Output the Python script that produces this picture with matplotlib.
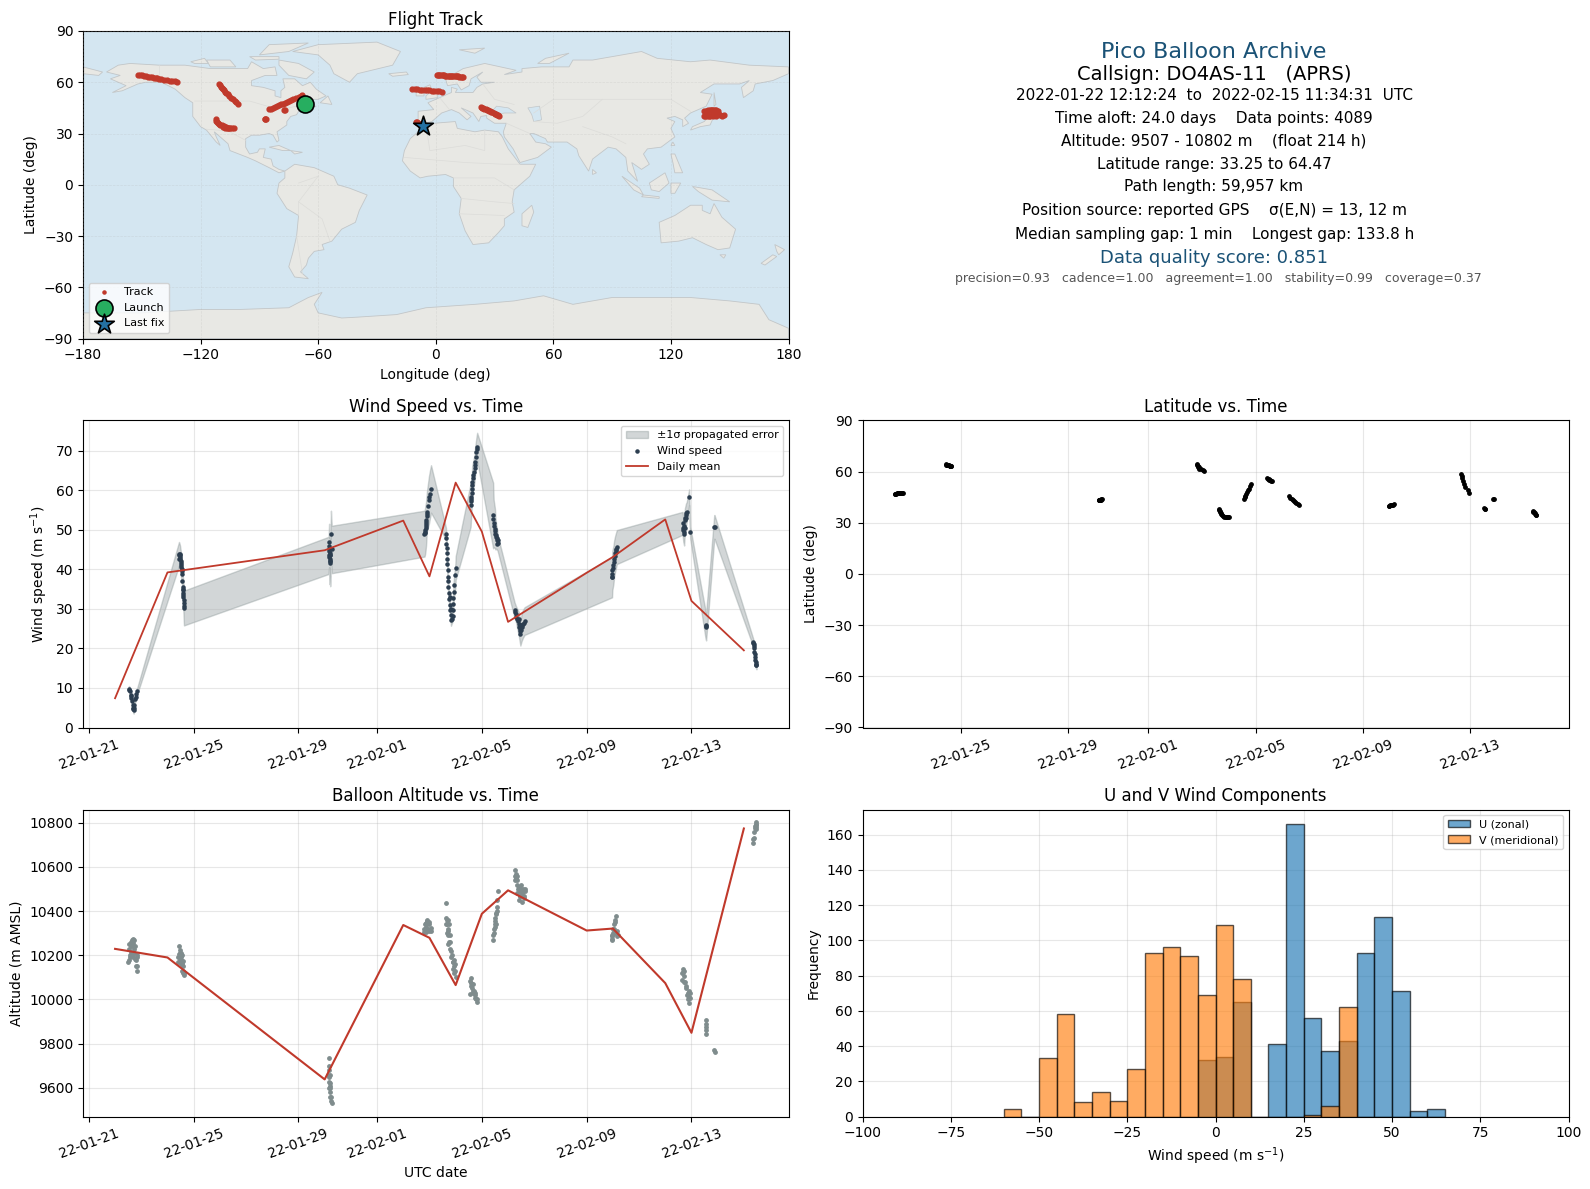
import matplotlib
matplotlib.use('Agg')
import numpy as np
import matplotlib.pyplot as plt
import matplotlib.dates as mdates
from matplotlib.patches import Polygon
from datetime import datetime

# days after 2022-01-21 00:00, one line per burst of fixes
days = [1.53, 1.56, 1.59, 1.62, 1.65, 1.67, 1.69, 1.71, 1.74, 1.77, 1.80, 1.84,
        3.44, 3.46, 3.48, 3.50, 3.52, 3.54, 3.56, 3.58, 3.60, 3.61, 3.62, 3.63,
        9.15, 9.16, 9.17, 9.18, 9.19, 9.20, 9.21, 9.22, 9.24, 9.27,
        12.81, 12.83, 12.85, 12.87, 12.88, 12.89, 12.90, 12.98, 13.02, 13.06,
        13.63, 13.65, 13.67, 13.68, 13.70, 13.71, 13.75, 13.80, 13.82, 13.88, 13.90, 13.92, 13.99, 14.00,
        14.57, 14.60, 14.62, 14.63, 14.67, 14.72, 14.74, 14.79, 14.82,
        15.43, 15.45, 15.50, 15.52, 15.55, 15.59, 15.60,
        16.25, 16.30, 16.35, 16.41, 16.44, 16.47, 16.52, 16.57, 16.63,
        19.97, 19.98, 20.02, 20.05, 20.09, 20.12, 20.15,
        22.66, 22.69, 22.72, 22.75, 22.79, 22.82, 22.91, 22.95,
        23.54, 23.55, 23.56,
        23.87, 23.88,
        25.35, 25.37, 25.39, 25.42, 25.44, 25.46, 25.48]
wind = [9.7, 9.2, 8.3, 7.5, 6.6, 5.6, 4.6, 4.3, 5.7, 7.1, 8.4, 9.1,
        43.9, 43.5, 43.0, 42.0, 41.0, 40.0, 38.8, 35.5, 34.0, 33.0, 31.5, 30.2,
        43.5, 45.0, 46.0, 43.0, 42.0, 44.0, 41.5, 42.5, 48.8, 45.0,
        49.0, 49.5, 50.5, 51.5, 52.5, 53.5, 54.5, 57.5, 59.0, 60.3,
        49.0, 46.5, 44.0, 41.4, 38.0, 35.5, 32.5, 29.6, 27.2, 28.3, 31.3, 34.2, 38.5, 40.3,
        56.2, 58.3, 60.4, 62.1, 63.8, 65.5, 67.2, 69.7, 71.0,
        53.6, 51.6, 50.3, 49.0, 48.2, 47.3, 46.7,
        29.6, 28.7, 27.5, 26.2, 24.9, 23.7, 25.4, 26.2, 26.9,
        38.0, 39.7, 41.0, 42.7, 44.0, 44.8, 45.6,
        51.6, 49.9, 49.5, 52.4, 53.7, 54.5, 58.2, 49.3,
        25.9, 25.7, 25.5,
        50.7, 50.7,
        21.6, 21.0, 20.0, 18.5, 17.0, 16.0, 15.7]
wind_sigma = [.8, .8, .8, .8, .8, .8, .8, .8, .8, .8, .8, .8,
              3, 3, 3, 3, 3, 3, 3, 3, 3.5, 4, 4.2, 4.4,
              4.7, 5, 5.5, 5.5, 5.8, 5.5, 5.8, 5.5, 6, 6,
              5.8, 5.8, 5.8, 5.5, 5.5, 5, 5, 6, 6, 6,
              1.5, 1.5, 1.5, 1.5, 1.5, 1.5, 1.5, 1.5, 1.5, 1.5, 2, 2.5, 3, 3,
              5.5, 4, 4, 4, 3.5, 3.5, 3.5, 3.5, 3.5,
              8.3, 6, 5, 4, 3, 2.5, 2,
              2, 2, 2.5, 3, 3, 3, 3.5, 3.5, 3.5,
              5.1, 5, 4.8, 4.6, 4.5, 4.4, 4.3,
              2.9, 3, 3.5, 3, 2.9, 2.5, 2, 1.5,
              3.5, 3.5, 3.5,
              3, 3,
              1, 1, 1, 1, 1, 1, 1]
altitude = [10180, 10200, 10215, 10240, 10270, 10275, 10255, 10230, 10210, 10185, 10150, 10130,
            10240, 10225, 10210, 10190, 10180, 10170, 10160, 10175, 10150, 10130, 10120, 10110,
            9735, 9700, 9680, 9650, 9620, 9600, 9580, 9560, 9540, 9530,
            10305, 10310, 10320, 10330, 10345, 10355, 10360, 10340, 10320, 10310,
            10370, 10437, 10360, 10340, 10320, 10290, 10260, 10230, 10190, 10170, 10140, 10120, 10130, 10100,
            10095, 10075, 10070, 10050, 10040, 10020, 10030, 10000, 9990,
            10270, 10300, 10330, 10355, 10385, 10420, 10490,
            10585, 10570, 10540, 10510, 10490, 10470, 10440, 10490, 10500,
            10275, 10285, 10300, 10320, 10350, 10380, 10310,
            10140, 10125, 10105, 10080, 10050, 10020, 9985, 10005,
            9905, 9875, 9845,
            9770, 9762,
            10710, 10730, 10760, 10775, 10785, 10795, 10802]
latitude = [47.1, 47.1, 47.1, 47.2, 47.2, 47.3, 47.3, 47.4, 47.4, 47.5, 47.5, 47.6,
            64.3, 64.2, 64.1, 64.0, 63.9, 63.8, 63.7, 63.6, 63.5, 63.4, 63.2, 63.1,
            43.2, 43.3, 43.4, 43.5, 43.5, 43.5, 43.6, 43.6, 43.7, 43.8,
            64.3, 64.0, 63.5, 63.0, 62.6, 62.2, 61.8, 61.3, 60.8, 60.4,
            38.4, 37.6, 37.0, 36.4, 35.8, 35.2, 34.7, 34.2, 33.7, 33.4, 33.3, 33.25, 33.4, 33.4,
            44.1, 45.0, 46.0, 47.0, 48.0, 49.0, 50.0, 51.5, 52.5,
            56.0, 55.8, 55.6, 55.3, 55.0, 54.8, 54.5,
            45.5, 44.8, 44.1, 43.5, 42.9, 42.3, 41.6, 41.0, 40.4,
            40.0, 40.1, 40.2, 40.4, 40.5, 40.7, 40.8,
            58.8, 57.5, 56.0, 54.5, 53.0, 51.0, 49.0, 47.5,
            38.5, 38.4, 38.3,
            43.9, 43.8,
            36.9, 36.5, 36.1, 35.6, 35.2, 34.8, 34.4]
longitude = [-68.0, -67.7, -67.4, -67.0, -66.7, -66.4, -66.1, -65.8, -65.5, -65.0, -64.5, -64.0,
             0.5, 1.7, 3.0, 4.2, 5.4, 6.6, 7.8, 9.0, 10.2, 11.4, 12.7, 14.0,
             137.0, 137.7, 138.4, 139.0, 139.7, 140.3, 141.0, 141.7, 142.4, 143.0,
             -152.0, -150.0, -148.0, -146.0, -144.0, -142.0, -140.0, -137.0, -134.5, -132.0,
             -112.3, -112.0, -111.5, -111.0, -110.5, -110.0, -109.0, -108.0, -107.0, -106.0, -105.5, -105.0, -104.0, -103.0,
             -85.0, -83.0, -81.0, -79.0, -77.0, -75.0, -73.0, -70.0, -68.0,
             -12.0, -9.5, -7.0, -4.5, -2.0, 0.5, 3.0,
             23.0, 24.2, 25.4, 26.6, 27.7, 28.9, 30.1, 31.3, 32.5,
             137.0, 138.5, 140.0, 141.5, 143.0, 145.0, 147.0,
             -110.6, -109.5, -108.5, -107.5, -106.0, -104.5, -102.5, -101.0,
             -87.3, -87.0, -86.8,
             -77.2, -77.0,
             -10.0, -9.5, -9.0, -8.4, -7.8, -7.2, -6.6]

# more fixes read off the clusters, only drawn as points (not part of the error band)
more_wind_days = [1.55, 1.60, 1.68, 1.72, 1.78,
                  3.44, 3.45, 3.47, 3.49, 3.51, 3.53, 3.55, 3.57, 3.585, 3.59, 3.605, 3.615, 3.625,
                  9.16, 9.18, 9.19, 9.20, 9.21, 9.22,
                  12.82, 12.84, 12.86, 12.875, 12.895, 12.94, 13.00,
                  13.64, 13.66, 13.675, 13.69, 13.705, 13.73, 13.775, 13.80, 13.81, 13.83, 13.85, 13.885, 13.91, 13.95,
                  14.58, 14.60, 14.61, 14.625, 14.65, 14.695, 14.73, 14.765, 14.805,
                  15.44, 15.47, 15.51, 15.535, 15.57, 15.58, 15.60,
                  16.27, 16.32, 16.38, 16.40, 16.42, 16.455, 16.49, 16.50, 16.545, 16.60,
                  19.975, 19.98, 20.00, 20.035, 20.07, 20.105, 20.135,
                  22.67, 22.70, 22.70, 22.735, 22.77, 22.80, 22.81,
                  25.36, 25.38, 25.40, 25.43, 25.45, 25.47]
more_wind = [9.5, 7.9, 5.0, 5.0, 7.8,
             42.5, 43.7, 43.8, 42.5, 41.5, 40.5, 39.5, 37.0, 35.0, 34.7, 33.5, 32.2, 30.8,
             47.0, 44.5, 43.5, 42.0, 45.0, 43.5,
             49.2, 50.0, 51.0, 52.0, 54.0, 56.0, 58.2,
             47.8, 45.3, 42.7, 39.7, 37.0, 34.0, 31.0, 33.0, 28.4, 30.0, 27.5, 29.8, 32.8, 36.0,
             57.3, 57.8, 59.4, 61.2, 63.0, 64.7, 66.3, 68.5, 70.4,
             52.6, 51.0, 49.7, 48.6, 47.8, 46.5, 47.5,
             29.2, 28.0, 26.9, 27.4, 25.5, 24.3, 24.6, 26.0, 25.8, 26.5,
             38.9, 38.0, 40.3, 41.8, 43.3, 44.4, 45.2,
             50.5, 51.0, 49.0, 50.5, 53.0, 54.1, 53.0,
             21.3, 20.5, 19.2, 17.8, 16.5, 15.9]
more_alt_days = [1.50, 1.52, 1.55, 1.58, 1.60, 1.63, 1.66, 1.68, 1.70, 1.72, 1.75, 1.78, 1.82, 1.83, 1.85,
                 3.40, 3.42, 3.44, 3.47, 3.50, 3.50, 3.53, 3.56, 3.55, 3.60,
                 9.13, 9.16, 9.18, 9.20, 9.22, 9.24,
                 12.80, 12.84, 12.86, 12.90, 12.92, 12.95, 12.97, 13.00, 13.05,
                 13.65, 13.68, 13.72, 13.72, 13.72, 13.76, 13.78, 13.78, 13.82, 13.85, 13.90, 13.92, 13.95, 13.97,
                 14.55, 14.55, 14.60, 14.65, 14.68, 14.70, 14.75, 14.80,
                 15.44, 15.48, 15.50, 15.52, 15.53, 15.55, 15.57, 15.58,
                 16.25, 16.28, 16.32, 16.33, 16.35, 16.36, 16.38, 16.42, 16.45, 16.48, 16.50, 16.55, 16.58, 16.60, 16.62, 16.65,
                 19.95, 19.98, 20.00, 20.05, 20.10, 20.10, 20.15, 20.20,
                 22.62, 22.65, 22.70, 22.72, 22.78, 22.85, 22.88, 22.90, 22.92, 22.95,
                 23.55, 23.55,
                 25.36, 25.45, 25.47, 25.48]
more_alt = [10170, 10230, 10250, 10190, 10260, 10210, 10200, 10240, 10190, 10270, 10240, 10180, 10150, 10190, 10200,
            10170, 10190, 10205, 10180, 10200, 10160, 10210, 10200, 10130, 10120,
            9660, 9625, 9600, 9660, 9610, 9560,
            10320, 10340, 10305, 10320, 10345, 10350, 10310, 10350, 10325,
            10340, 10300, 10360, 10310, 10250, 10340, 10290, 10260, 10220, 10200, 10170, 10180, 10150, 10160,
            10085, 10023, 10060, 10070, 10030, 10040, 10005, 10000,
            10290, 10320, 10370, 10340, 10390, 10340, 10450, 10400,
            10560, 10540, 10550, 10480, 10560, 10520, 10500, 10450, 10470, 10520, 10500, 10480, 10500, 10470, 10460, 10490,
            10290, 10270, 10320, 10340, 10300, 10360, 10285, 10290,
            10120, 10090, 10080, 10130, 10060, 10030, 10000, 10040, 10010, 10030,
            9890, 9860,
            10725, 10770, 10780, 10790]
more_track_lon = [-151, -149, -147, -145, -143, -141, -138.5, -135.7, -133,
                  -110, -109, -108, -107, -105.3, -103.5, -101.7,
                  -84, -82, -80, -78, -76, -74, -71.5, -69,
                  1.1, 2.3, 3.6, 4.8, 6, 7.2, 8.4, 9.6, 10.8, 12, 13.3,
                  -10.7, -8.2, -5.7, -3.2, -0.7, 1.7,
                  23.6, 24.8, 26, 27.1, 28.3, 29.5, 30.7, 31.9,
                  -108.5, -107.5, -106.5,
                  137.5, 139.5, 141, 143, 144, 146, 142, 144]
more_track_lat = [64.2, 63.8, 63.3, 62.8, 62.4, 62, 61.6, 61, 60.6,
                  58.2, 56.8, 55.3, 53.8, 52, 50, 48.2,
                  44.5, 45.5, 46.5, 47.5, 48.5, 49.5, 50.7, 52,
                  64.25, 64.15, 64.05, 63.95, 63.85, 63.75, 63.65, 63.55, 63.45, 63.3, 63.15,
                  55.9, 55.7, 55.5, 55.2, 54.9, 54.7,
                  45.1, 44.5, 43.8, 43.2, 42.6, 42, 41.3, 40.7,
                  34, 33.5, 33.4,
                  40, 40.3, 41, 41.5, 42, 40.5, 43, 43]

mean_days = [1, 3, 9, 12, 13, 14, 15, 16, 19, 20, 22, 23, 25]
mean_wind = [7.4, 39.2, 44.8, 52.3, 38.2, 61.9, 49.5, 26.7, 39.1, 43.1, 52.6, 32.0, 19.5]
mean_alt = [10229, 10190, 9638, 10337, 10279, 10065, 10388, 10494, 10312, 10321, 10074, 9849, 10774]

launch = (-66.5, 47.3)
last_fix = (-6.6, 34.4)

hist_left = list(range(-60, 65, 5))
u_counts = [0, 0, 0, 0, 0, 0, 0, 0, 0, 0, 0, 32, 34, 65, 0, 41, 166, 56, 37, 43, 93, 113, 71, 3, 4]
v_counts = [4, 0, 33, 58, 8, 14, 9, 27, 93, 96, 91, 69, 109, 78, 0, 0, 0, 1, 6, 62, 0, 0, 0, 0, 0]

date_ticks = ['2022-01-21', '2022-01-25', '2022-01-29', '2022-02-01', '2022-02-05', '2022-02-09', '2022-02-13']

info_lines = [
    ('Pico Balloon Archive', 16, '#1a5276', 52, 1214),
    ('Callsign: DO4AS-11   (APRS)', 14, 'black', 74, 1214),
    ('2022-01-22 12:12:24  to  2022-02-15 11:34:31  UTC', 11, 'black', 95, 1214),
    ('Time aloft: 24.0 days    Data points: 4089', 11, 'black', 118, 1214),
    ('Altitude: 9507 - 10802 m    (float 214 h)', 11, 'black', 140.5, 1214),
    ('Latitude range: 33.25 to 64.47', 11, 'black', 164, 1214),
    ('Path length: 59,957 km', 11, 'black', 187, 1214),
    ('Position source: reported GPS    \u03c3(E,N) = 13, 12 m', 11, 'black', 211, 1214),
    ('Median sampling gap: 1 min    Longest gap: 133.8 h', 11, 'black', 234, 1215),
    ('Data quality score: 0.851', 13, '#1a5276', 258, 1214),
    ('precision=0.93   cadence=1.00   agreement=1.00   stability=0.99   coverage=0.37', 9, '#555555', 279, 1218),
]

# rough coastlines, lon/lat by eye
land = [
    [(-168, 66), (-162, 70), (-156, 71), (-141, 70), (-128, 70), (-115, 68), (-108, 68), (-96, 68), (-94, 72), (-88, 68),
     (-82, 69), (-81, 64), (-87, 64), (-94, 61), (-94, 58), (-88, 57), (-82, 55), (-82, 52), (-79, 51), (-79, 55), (-77, 57),
     (-78, 62), (-72, 62), (-68, 58), (-64, 60), (-61, 56), (-56, 52), (-60, 50), (-66, 50), (-70, 47), (-65, 49), (-64, 46),
     (-61, 46), (-66, 44), (-70, 43), (-71, 41), (-74, 40), (-76, 37), (-76, 35), (-81, 31), (-80, 26), (-81, 25), (-83, 29),
     (-85, 30), (-90, 29), (-94, 29), (-97, 27), (-97, 22), (-95, 18), (-91, 19), (-90, 21), (-87, 21), (-88, 16), (-84, 15),
     (-83, 11), (-80, 9), (-77, 8), (-80, 7), (-85, 10), (-92, 14), (-96, 16), (-105, 20), (-106, 24), (-113, 31), (-112, 28),
     (-110, 23), (-112, 25), (-117, 32), (-120, 34), (-124, 40), (-124, 48), (-128, 51), (-133, 56), (-140, 60), (-148, 60),
     (-152, 59), (-160, 55), (-165, 54), (-158, 58), (-162, 60), (-166, 62), (-161, 64)],
    [(-77, 8), (-72, 12), (-62, 10), (-52, 5), (-50, 0), (-44, -2), (-35, -6), (-39, -15), (-41, -22), (-48, -26), (-53, -33),
     (-58, -35), (-57, -38), (-62, -39), (-65, -43), (-66, -47), (-69, -51), (-65, -55), (-72, -54), (-75, -48), (-73, -40),
     (-71, -30), (-70, -18), (-76, -14), (-81, -5), (-80, 1), (-77, 4)],
    [(-6, 35.5), (10, 37), (11, 33), (20, 31), (25, 32), (32, 31), (34, 28), (37, 21), (43, 12), (51, 12), (48, 5), (40, -3),
     (39, -10), (40, -16), (35, -20), (35, -24), (32, -28), (27, -34), (19, -35), (15, -27), (12, -17), (13, -8), (9, -1),
     (9, 4), (5, 6), (-4, 5), (-8, 4), (-13, 8), (-17, 14), (-16, 20), (-13, 27), (-9, 31)],
    [(-9, 37), (-9, 43), (-1, 44), (-4, 48), (2, 51), (8, 54), (8, 57), (11, 56), (10, 54), (19, 54), (21, 57), (24, 59),
     (30, 60), (23, 60), (21, 63), (24, 66), (18, 62), (17, 58), (13, 55.5), (11, 59), (6, 58), (5, 62), (14, 68), (25, 71),
     (41, 67), (35, 64.5), (44, 66), (44, 68), (54, 69), (68, 69), (70, 73), (80, 73), (105, 78), (113, 74), (130, 72),
     (140, 73), (160, 70), (180, 69), (180, 65), (172, 61), (163, 59), (162, 55), (157, 51), (156, 57), (160, 61), (155, 59),
     (142, 59), (135, 54), (141, 53), (138, 46), (130, 42), (127, 39), (129, 36), (126, 34), (126, 38), (122, 40), (118, 39),
     (122, 37), (120, 33), (122, 28), (115, 22), (108, 21), (106, 18), (109, 12), (105, 9), (100, 13), (103, 2), (98, 8),
     (97, 16), (92, 21), (88, 22), (80, 15), (78, 8), (73, 17), (72, 21), (67, 25), (57, 25), (56, 27), (50, 30), (48, 30),
     (51, 25), (56, 24), (59, 22), (52, 16), (43, 13), (39.5, 21), (35, 28), (34.5, 31), (36, 36), (30, 36), (26, 39),
     (26, 40.5), (23, 40), (22, 37), (19, 42), (13, 45), (18, 40), (16, 38), (12, 42), (8, 44), (3, 42), (0, 39), (-2, 37), (-6, 36)],
    [(-180, 65), (-172, 64), (-170, 66), (-180, 69)],
    [(-73, 78), (-60, 82), (-30, 83.5), (-18, 78), (-22, 70), (-40, 65), (-44, 60), (-52, 65), (-54, 70), (-60, 76)],
    [(-24, 65), (-15, 66), (-14, 64.5), (-22, 63.5)],
    [(-5, 50), (1, 51), (1, 53), (-2, 56), (-3, 58.5), (-6, 57), (-3, 54), (-5, 52)],
    [(-10, 52), (-6, 52), (-6, 55), (-10, 54)],
    [(-80, 73), (-70, 71), (-62, 66), (-66, 62), (-75, 64), (-80, 70)],
    [(-117, 73), (-105, 73), (-102, 69), (-115, 69)],
    [(-90, 76), (-85, 82), (-65, 83), (-75, 78)],
    [(-125, 72), (-118, 74), (-116, 71), (-123, 71)],
    [(-95, 75), (-80, 75), (-80, 73.5), (-92, 73)],
    [(-59, 48), (-53, 47), (-55, 52)],
    [(-85, 22), (-80, 23), (-74, 20), (-78, 20)],
    [(-74, 20), (-68, 19), (-72, 18)],
    [(130, 32), (135, 34), (140, 35), (142, 40), (140, 41), (137, 37), (131, 34)],
    [(140, 42), (145, 43.5), (142, 45.5)],
    [(142, 54), (143, 47), (142, 46)],
    [(95, 5), (104, -2), (106, -6), (101, -3)],
    [(109, 1), (117, 7), (119, 1), (114, -4), (110, -3)],
    [(105, -7), (114, -8), (114, -7), (106, -6)],
    [(120, 1), (125, 1), (122, -5), (120, -5)],
    [(131, -1), (141, -3), (150, -10), (141, -9), (134, -4)],
    [(120, 18), (122, 18), (126, 7), (122, 7), (121, 13)],
    [(80, 9), (82, 7), (80, 6)],
    [(121, 25), (122, 23), (120, 23)],
    [(114, -22), (122, -18), (130, -12), (136, -12), (136, -15), (140, -17), (142, -11), (146, -19), (153, -26), (150, -37),
     (144, -38), (138, -35), (131, -31), (124, -33), (115, -34)],
    [(145, -41), (148, -41), (147, -43)],
    [(173, -35), (178, -38), (175, -41), (174, -39)],
    [(172, -41), (174, -42), (168, -47), (166, -46)],
    [(49, -12), (50, -16), (47, -25), (44, -24), (44, -17)],
    [(12, 79), (25, 80), (20, 77)],
    [(52, 71), (56, 74), (68, 77), (58, 71)],
    [(-180, -90), (-180, -75), (-150, -75), (-120, -73), (-100, -73), (-75, -72), (-65, -66), (-58, -63), (-62, -70), (-60, -75),
     (-48, -78), (-40, -77.5), (-20, -76), (-5, -72), (20, -70), (40, -68), (55, -65), (70, -70), (90, -66), (110, -66), (130, -66),
     (150, -68), (165, -70), (170, -79), (180, -84), (180, -90)],
]
inland_seas = [
    [(28, 42), (31, 46), (37, 45), (41, 42), (35, 42), (30, 41)],
    [(47, 45), (53, 46), (54, 38), (50, 37), (49, 41)],
]
borders = [
    [(-123, 49), (-95, 49), (-83, 45), (-75, 45), (-67, 47)],
    [(-141, 70), (-141, 60)],
    [(-117, 32.5), (-106, 31.5), (-97, 26)],
    [(-70, -10), (-58, -20), (-54, -33)],
    [(-70, 1), (-60, 5), (-70, -10), (-70, -18)],
    [(-71, -30), (-68, -52)],
    [(-5, 35), (-3, 20), (15, 23), (25, 20), (25, 32)],
    [(-16, 16), (15, 13), (35, 12), (43, 12)],
    [(9, 4), (30, 4), (40, -3)],
    [(13, -8), (30, -10), (40, -11)],
    [(12, -17), (35, -18)],
    [(2, 51), (7, 44)],
    [(24, 59), (30, 50), (40, 47)],
    [(50, 42), (60, 50), (85, 50), (120, 50), (130, 43)],
    [(85, 50), (75, 40), (62, 36), (50, 37)],
    [(75, 34), (90, 28), (97, 24)],
    [(36, 36), (48, 30)],
]

ocean_color = '#d4e6f1'
land_color = '#e8e8e4'
red = '#c0392b'


def px_box(left, top, right, bottom):
    return [left / 1590, 1 - bottom / 1189, (right - left) / 1590, (bottom - top) / 1189]


def date_axis(ax):
    ax.xaxis.set_major_locator(plt.FixedLocator([mdates.date2num(datetime.strptime(d, '%Y-%m-%d')) for d in date_ticks]))
    ax.xaxis.set_major_formatter(mdates.DateFormatter('%y-%m-%d'))
    plt.setp(ax.get_xticklabels(), rotation=20, ha='center')


t0 = mdates.date2num(datetime(2022, 1, 21))
t = t0 + np.array(days)
t_mean = t0 + np.array(mean_days)
t_more_wind = t0 + np.array(more_wind_days)
t_more_alt = t0 + np.array(more_alt_days)
wind_arr = np.array(wind)
sigma_arr = np.array(wind_sigma)

fig = plt.figure(figsize=(15.9, 11.89), dpi=100)
ax_map = fig.add_axes(px_box(83, 31, 788.5, 338.5))
ax_wind = fig.add_axes(px_box(83, 420.5, 788.5, 727.5))
ax_lat = fig.add_axes(px_box(862.5, 420.5, 1568.5, 727.5))
ax_alt = fig.add_axes(px_box(83, 809.5, 788.5, 1116.5))
ax_hist = fig.add_axes(px_box(862.5, 809.5, 1568.5, 1116.5))

# map
ax_map.set_facecolor(ocean_color)
for poly in land:
    ax_map.add_patch(Polygon(poly, closed=True, facecolor=land_color, edgecolor='#c2c6c8', linewidth=0.6, zorder=1))
for poly in inland_seas:
    ax_map.add_patch(Polygon(poly, closed=True, facecolor=ocean_color, edgecolor='#c2c6c8', linewidth=0.5, zorder=1.1))
for line in borders:
    ax_map.plot([p[0] for p in line], [p[1] for p in line], color='#dcdcd9', linewidth=0.5, zorder=1.2)
ax_map.scatter(longitude, latitude, s=12, color=red, zorder=3)
ax_map.scatter(more_track_lon, more_track_lat, s=12, color=red, zorder=3)
ax_map.scatter([], [], s=5, color=red, label='Track')
ax_map.scatter(launch[0], launch[1], s=150, color='#27ae60', edgecolor='black', linewidth=1.2, label='Launch', zorder=4)
ax_map.scatter(last_fix[0], last_fix[1], s=220, marker='*', color='#2471a3', edgecolor='black', linewidth=1.2, label='Last fix', zorder=5)
ax_map.set_xlim(-180, 180)
ax_map.set_ylim(-90, 90)
ax_map.set_xticks(range(-180, 181, 60))
ax_map.set_yticks(range(-90, 91, 30))
ax_map.grid(alpha=0.25, linewidth=0.5, linestyle='--', zorder=2)
ax_map.set_axisbelow(False)
ax_map.set_title('Flight Track', fontsize=12, pad=4.6)
ax_map.set_xlabel('Longitude (deg)', labelpad=4.5)
ax_map.set_ylabel('Latitude (deg)')
ax_map.legend(loc='lower left', fontsize=8)

# info text
for text, size, color, y, x in info_lines:
    fig.text(x / 1590, 1 - y / 1189, text, fontsize=size, color=color, ha='center', va='center')

# wind speed
ax_wind.fill_between(t, wind_arr - sigma_arr, wind_arr + sigma_arr, color='#7f8c8d', alpha=0.35, label='\u00b11\u03c3 propagated error')
ax_wind.scatter(t, wind_arr, s=5, color='#2c3e50', label='Wind speed', zorder=3)
ax_wind.scatter(t_more_wind, more_wind, s=5, color='#2c3e50', zorder=3)
ax_wind.plot(t_mean, mean_wind, color=red, linewidth=1.3, label='Daily mean', zorder=4)
ax_wind.set_ylim(0, 77.6)
date_axis(ax_wind)
ax_wind.grid(alpha=0.3)
ax_wind.set_title('Wind Speed vs. Time', fontsize=12)
ax_wind.set_ylabel('Wind speed (m s$^{-1}$)')
ax_wind.legend(loc='upper right', fontsize=8)

# latitude
ax_lat.scatter(t, latitude, s=6, color='black', zorder=3)
ax_lat.set_ylim(-90, 90)
ax_lat.set_yticks(range(-90, 91, 30))
date_axis(ax_lat)
ax_lat.grid(alpha=0.3)
ax_lat.set_title('Latitude vs. Time', fontsize=12)
ax_lat.set_ylabel('Latitude (deg)')

# altitude
ax_alt.scatter(t, altitude, s=6, color='#7f8c8d', zorder=3)
ax_alt.scatter(t_more_alt, more_alt, s=6, color='#7f8c8d', zorder=3)
ax_alt.plot(t_mean, mean_alt, color=red, linewidth=1.5, zorder=4)
ax_alt.set_ylim(9470, 10860)
ax_alt.set_yticks(range(9600, 10801, 200))
date_axis(ax_alt)
ax_alt.grid(alpha=0.3)
ax_alt.set_title('Balloon Altitude vs. Time', fontsize=12)
ax_alt.set_ylabel('Altitude (m AMSL)')
ax_alt.set_xlabel('UTC date')

# U and V histogram
ax_hist.bar(hist_left, u_counts, width=5, align='edge', color='#1f77b4', alpha=0.65, edgecolor='black', label='U (zonal)', zorder=3)
ax_hist.bar(hist_left, v_counts, width=5, align='edge', color='#ff7f0e', alpha=0.65, edgecolor='black', label='V (meridional)', zorder=4)
ax_hist.set_xlim(-100, 100)
ax_hist.set_ylim(0, 174.3)
ax_hist.set_yticks(range(0, 161, 20))
ax_hist.grid(alpha=0.3)
ax_hist.set_title('U and V Wind Components', fontsize=12)
ax_hist.set_xlabel('Wind speed (m s$^{-1}$)')
ax_hist.set_ylabel('Frequency')
ax_hist.legend(loc='upper right', fontsize=8)

plt.savefig('out.png', dpi=100)
